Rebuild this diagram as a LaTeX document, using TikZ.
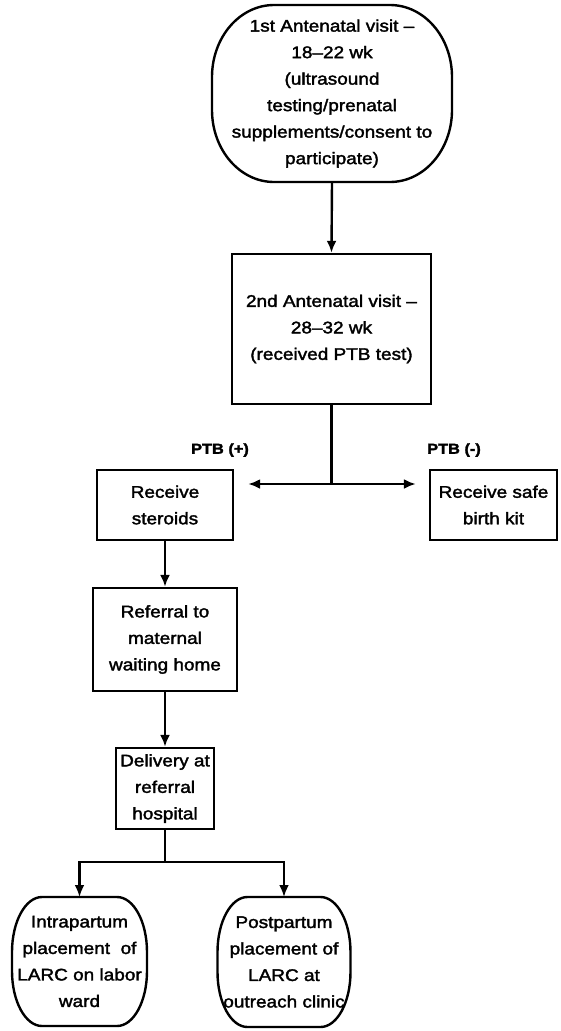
\documentclass[tikz,border=0pt]{standalone}
\usepackage{fontspec}
\setmainfont{Liberation Sans}[FakeStretch=1.13, FakeBold=2]
\usetikzlibrary{arrows.meta}

\tikzset{
  box/.style={draw, line width=2.4pt, align=center, inner sep=2pt},
  term/.style={align=center, inner sep=0pt, outer sep=0pt},
  link/.style={line width=2.4pt},
  arr/.style={link, -{Latex[length=12pt,width=10pt]}},
  tag/.style={font=\bfseries\fontsize{14.5}{16}\selectfont},
}
% outline with elliptic corners round a node: name, x radius, y radius
\newcommand{\barrel}[3]{%
  \draw[link] ([xshift=#2]#1.north west) -- ([xshift=-#2]#1.north east)
    arc[start angle=90, end angle=0, x radius=#2, y radius=#3]
    -- ([yshift=#3]#1.south east)
    arc[start angle=0, end angle=-90, x radius=#2, y radius=#3]
    -- ([xshift=#2]#1.south west)
    arc[start angle=270, end angle=180, x radius=#2, y radius=#3]
    -- ([yshift=-#3]#1.north west)
    arc[start angle=180, end angle=90, x radius=#2, y radius=#3] -- cycle;}

\begin{document}
\begin{tikzpicture}[x=1pt, y=-1pt, font=\fontsize{16.8}{26.5}\selectfont]
  \useasboundingbox (0,0) rectangle (561,1031);
  % Antenatal visits
  \node[term, minimum width=240pt, minimum height=177pt] (visit1) at (332,93.5)
    {1st Antenatal visit –\\18–22 wk\\(ultrasound\\testing/prenatal\\supplements/consent to\\participate)};
  \barrel{visit1}{62pt}{72pt}
  \node[box, minimum width=199pt, minimum height=150pt] (visit2) at (331.5,329)
    {2nd Antenatal visit –\\28–32 wk\\(received PTB test)};
  \draw[arr] (visit1.south) -- (visit2.north);

  % Test result
  \node[box, minimum width=136pt, minimum height=70pt] (steroids) at (165,505) {Receive\\steroids};
  \node[box, minimum width=127pt, minimum height=70pt] (kit) at (493.5,505) {Receive safe\\birth kit};
  \node[tag] (ptbpos) at (220,450) {PTB (+)};
  \node[tag] (ptbneg) at (454,450) {PTB (-)};
  \coordinate (split) at (visit2.south |- 0,484);
  \draw[link] (visit2.south) -- (split);
  \draw[arr, shorten >=14pt] (split) -- (split -| steroids.east);
  \draw[arr, shorten >=13pt] (split) -- (split -| kit.west);

  % Referral path
  \node[box, minimum width=144pt, minimum height=103pt] (waiting) at (165,639.5) {Referral to\\maternal\\waiting home};
  \node[box, minimum width=98pt, minimum height=81pt] (delivery) at (165,788.5) {Delivery at\\referral\\hospital};
  \draw[arr] (steroids.south) -- (waiting.north);
  \draw[arr] (waiting.south) -- (delivery.north);

  % LARC placement
  \node[term, minimum width=135pt, minimum height=129pt] (intra) at (79.5,961.5) {Intrapartum\\placement~ of\\LARC on labor\\ward};
  \barrel{intra}{30pt}{55pt}
  \node[term, minimum width=133pt, minimum height=130pt] (post) at (284,962) {Postpartum\\placement of\\LARC at\\outreach clinic};
  \barrel{post}{30pt}{55pt}
  \coordinate (fork) at (delivery.south |- 0,862);
  \draw[link] (delivery.south) -- (fork);
  \draw[arr] (fork) -| (intra.north);
  \draw[arr] (fork) -| (post.north);
\end{tikzpicture}
\end{document}
